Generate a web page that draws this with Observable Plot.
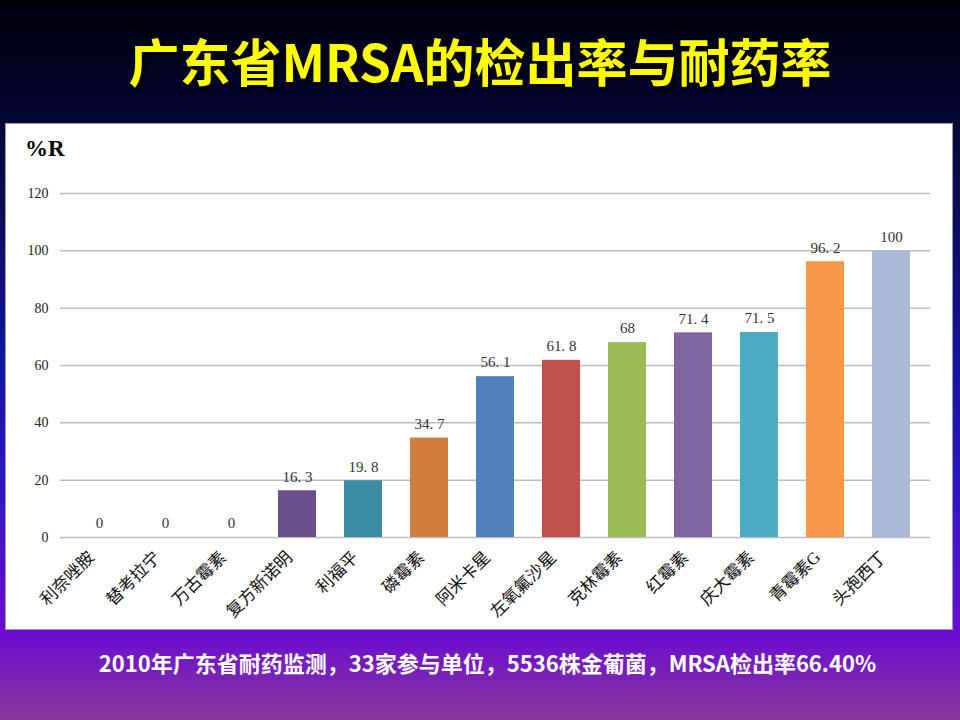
<!DOCTYPE html>
<html>
<head>
<meta charset="utf-8">
<script src="https://cdn.jsdelivr.net/npm/d3@7"></script>
<script src="https://cdn.jsdelivr.net/npm/@observablehq/plot@0.6"></script>
<style>
  html, body { margin: 0; padding: 0; }
  body {
    width: 960px; height: 720px; overflow: hidden; position: relative;
    background: linear-gradient(to bottom, #00000a 0%, #050530 15%, #0c0c5a 30%, #1414a0 50%, #2a18c0 65%, #6a0cd0 88%, #883a9c 100%);
    font-family: "Noto Sans CJK SC", "Noto Sans", sans-serif;
  }
  #title {
    position: absolute; left: 0; top: 30px; width: 960px; text-align: center;
    font-size: 51px; line-height: 60px; font-weight: bold; color: #ffff00;
    text-shadow: 3px 3px 2px #000;
  }
  #panel {
    position: absolute; left: 5px; top: 123px; width: 946px; height: 505px;
    background: #fff; border: 1px solid #9a9ab8;
  }
  #caption {
    position: absolute; left: 0; top: 647px; width: 975px; text-align: center;
    font-size: 22px; line-height: 30px; font-weight: bold; color: #fff;
  }
  #ylab {
    position: absolute; left: 19px; top: 12px; font-size: 23px; font-weight: bold;
    font-family: "Liberation Serif", "DejaVu Serif", serif; color: #000;
  }
</style>
</head>
<body>
<div id="title">广东省MRSA的检出率与耐药率</div>
<div id="panel"><div id="ylab">%R</div></div>
<div id="caption">2010年广东省耐药监测，33家参与单位，5536株金葡菌，MRSA检出率66.40%</div>
<script>
const drugs = ["利奈唑胺","替考拉宁","万古霉素","复方新诺明","利福平","磷霉素","阿米卡星","左氧氟沙星","克林霉素","红霉素","庆大霉素","青霉素G","头孢西丁"];
const resistance = [0, 0, 0, 16.3, 19.8, 34.7, 56.1, 61.8, 68, 71.4, 71.5, 96.2, 100];
const labels = ["0","0","0","16. 3","19. 8","34. 7","56. 1","61. 8","68","71. 4","71. 5","96. 2","100"];
const colors = ["#4f81bd","#c0504d","#9bbb59","#6b4f8a","#3a8ca5","#d07c3a","#4f81bd","#c0504d","#9bbb59","#8064a2","#4bacc6","#f79646","#a9b9d7"];
const yTicks = [0, 20, 40, 60, 80, 100, 120];

const data = drugs.map((d, i) => ({drug: d, value: resistance[i], label: labels[i], color: colors[i]}));

const chart = Plot.plot({
  width: 946,
  height: 505,
  marginTop: 69,
  marginBottom: 92,
  marginLeft: 54,
  marginRight: 22,
  style: {fontFamily: "'Liberation Serif', 'DejaVu Serif', 'Noto Sans CJK SC', serif", fontSize: "14px", background: "transparent"},
  x: {domain: drugs, paddingInner: 0.43, paddingOuter: 0.215, label: null},
  y: {domain: [0, 120], ticks: yTicks, label: null},
  marks: [
    Plot.gridY(yTicks, {stroke: "#bdbdbd", strokeOpacity: 1, strokeWidth: 1.5}),
    Plot.axisY(yTicks, {tickSize: 0, tickPadding: 12, fontSize: 14, fill: "#222"}),
    Plot.axisX({tickSize: 0, tickPadding: 17, dx: -8, tickRotate: -45, fontSize: 17, fill: "#111", label: null}),
    Plot.barY(data, {x: "drug", y: "value", fill: d => d.color}),
    Plot.text(data, {x: "drug", y: "value", text: "label", dy: -14, fontSize: 15, fill: "#333"})
  ]
});
document.getElementById("panel").appendChild(chart);
chart.style.position = "absolute";
chart.style.left = "0px";
chart.style.top = "0px";
</script>
</body>
</html>
